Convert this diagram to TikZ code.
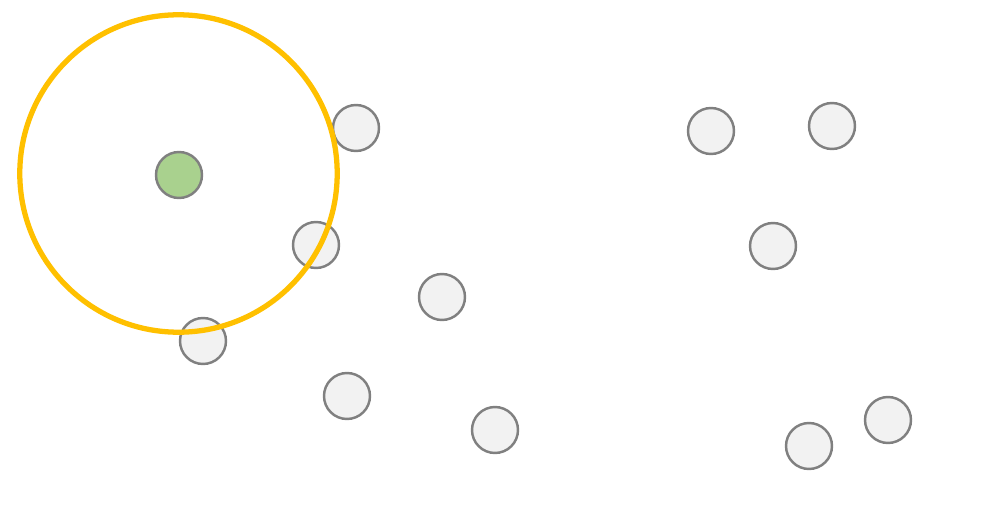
\documentclass[tikz,border=0pt]{standalone}
\usetikzlibrary{positioning}
\definecolor{dotgrey}{HTML}{F2F2F2}
\definecolor{dotedge}{HTML}{808080}
\definecolor{dotgreen}{HTML}{A9D18E}
\definecolor{ringgold}{HTML}{FFC000}
\newcommand{\pointdot}[3]{%
  \node[circle, draw=dotedge, line width=1.4pt, fill=#3,
        minimum size=0.92cm, inner sep=0pt] (#1) at (#2) {};}

\begin{document}
\begin{tikzpicture}[x=0.02cm, y=-0.02cm]
      \useasboundingbox (0,0) rectangle (991,527);
      \pointdot{core}{179,175}{dotgreen}
      \pointdot{p1}{356,128}{dotgrey}
      \pointdot{p2}{316,245}{dotgrey}
      \pointdot{p3}{203,341}{dotgrey}
      \pointdot{p4}{442,297}{dotgrey}
      \pointdot{p5}{347,396}{dotgrey}
      \pointdot{p6}{495,430}{dotgrey}
      \pointdot{p7}{711,131}{dotgrey}
      \pointdot{p8}{832,126}{dotgrey}
      \pointdot{p9}{773,246}{dotgrey}
      \pointdot{p10}{888,420}{dotgrey}
      \pointdot{p11}{809,446}{dotgrey}
      \node[circle, draw=ringgold, line width=3pt, minimum size=6.35cm,
            inner sep=0pt] (ring) at (178.5,173.5) {};
    \end{tikzpicture}
\end{document}
